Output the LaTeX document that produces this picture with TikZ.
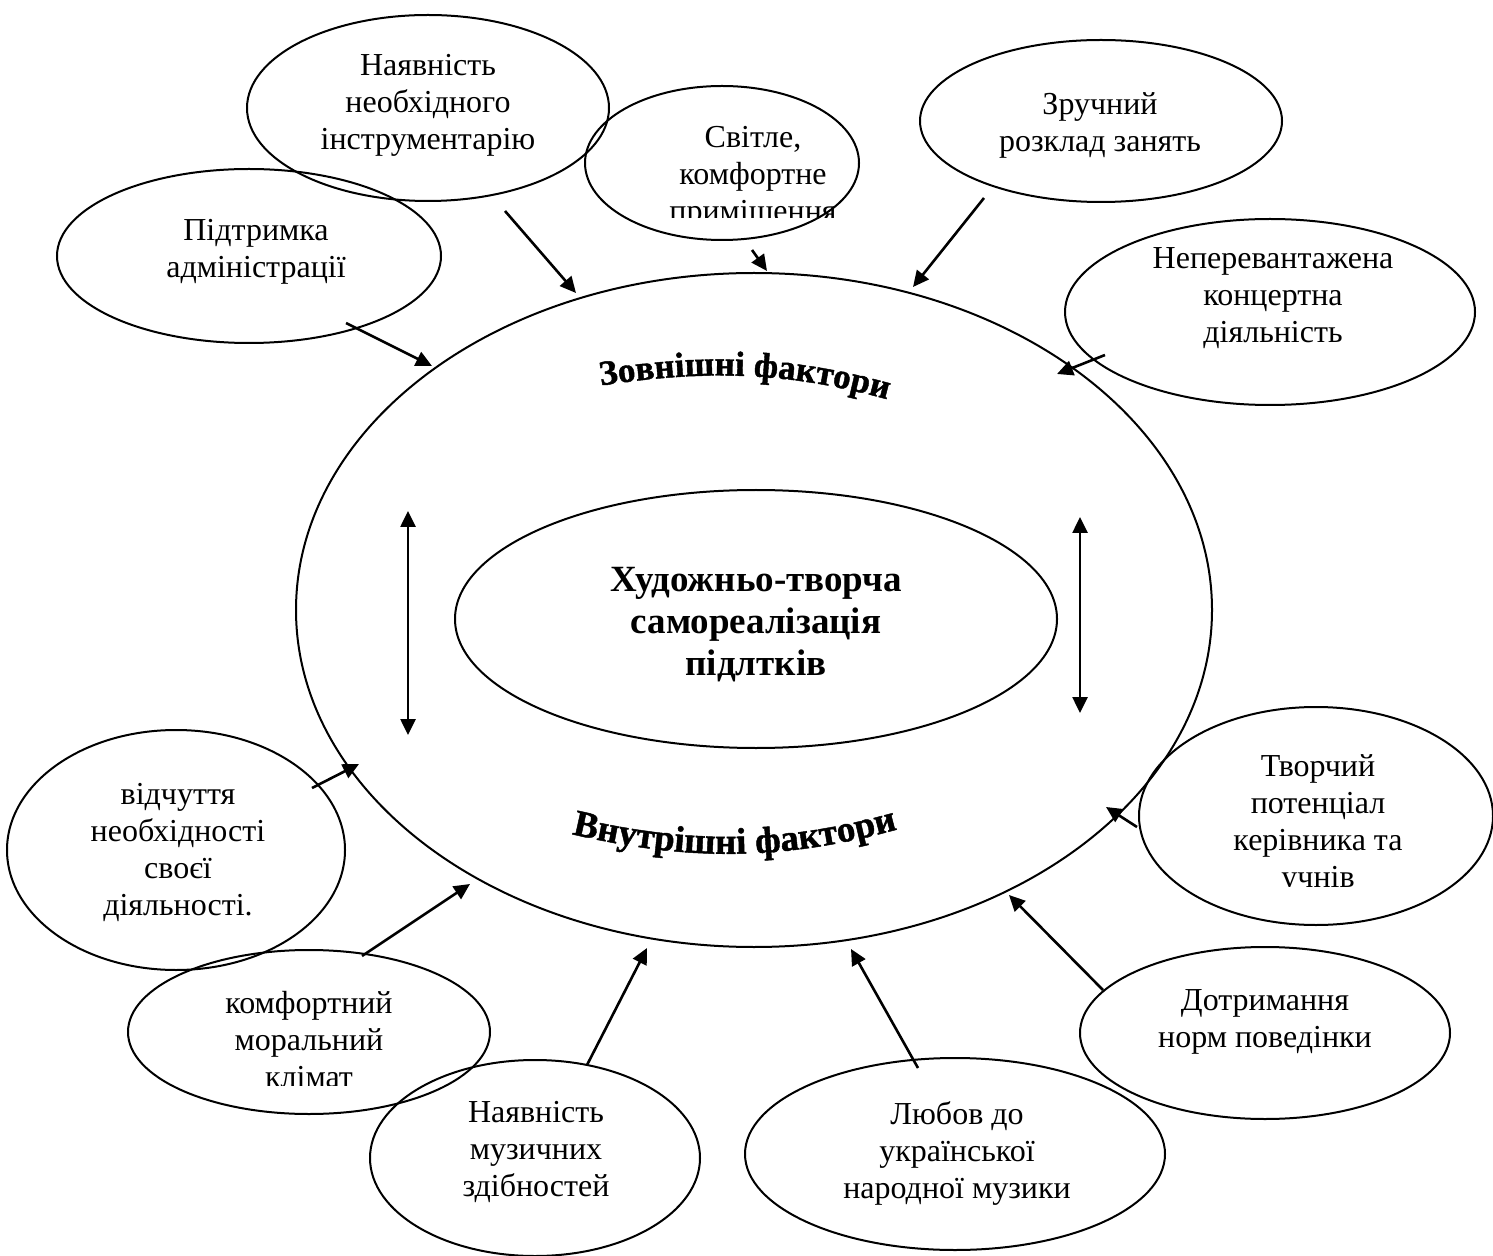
\documentclass[tikz,border=0pt]{standalone}
\usepackage{fontspec}
\setmainfont{Liberation Serif}
\newfontfamily\wafont{Liberation Serif}[BoldFeatures={FakeBold=1.2}]
\usetikzlibrary{shapes.geometric,arrows.meta,decorations.text}
\begin{document}
\begin{tikzpicture}[x=0.5pt,y=-0.5pt,
  oval/.style={ellipse,draw,line width=1pt,inner sep=0pt},
  txt/.style={align=center,inner sep=0pt,font=\fontsize{16}{18.5}\selectfont},
  ttl/.style={align=center,inner sep=0pt,font=\bfseries\fontsize{18.5}{21}\selectfont},
  arr/.style={line width=1.3pt,-{Triangle[length=8pt,width=7.5pt]}},
  darr/.style={line width=1.3pt,{Triangle[length=8pt,width=7.5pt]}-{Triangle[length=8pt,width=7.5pt]}}]
\useasboundingbox (0,0) rectangle (1493,1256);
\fill[white] (0,0) rectangle (1493,1256);

% main ellipses
\node[oval,minimum width=458pt,minimum height=337pt] (big) at (754,610) {};
\node[oval,minimum width=301pt,minimum height=129pt] (core) at (756,619) {};
\node[ttl] (title) at (756,625) {Художньо-творча\\самореалізація\\підлтків};

% outer ellipses
\node[oval,minimum width=181pt,minimum height=93pt] (e1) at (428,108) {};
\node[oval,minimum width=137pt,minimum height=77pt] (e2) at (722,163) {};
\node[oval,minimum width=181pt,minimum height=81pt] (e3) at (1101,121) {};
\node[oval,minimum width=192pt,minimum height=87pt] (e4) at (249,256) {};
\node[oval,minimum width=205pt,minimum height=93pt] (e5) at (1270,312) {};
\node[oval,minimum width=169pt,minimum height=120pt] (e6) at (176,850) {};
\node[oval,minimum width=177pt,minimum height=109pt] (e7) at (1316,816) {};
\node[oval,minimum width=181pt,minimum height=82pt] (e8) at (309,1032) {};
\node[oval,minimum width=185pt,minimum height=86pt] (e9) at (1265,1033) {};
\node[oval,minimum width=165pt,minimum height=98pt] (e10) at (535,1158) {};
\node[oval,minimum width=210pt,minimum height=96pt] (e11) at (955,1154) {};

% texts
\node[txt] (t1) at (428,105) {Наявність\\необхідного\\інструментарію};
\begin{scope}
\clip (600,90) rectangle (900,218);
\node[txt] (t2) at (753,177) {Світле,\\комфортне\\приміщення};
\end{scope}
\node[txt] (t3) at (1100,125) {Зручний\\розклад занять};
\node[txt] (t4) at (256,252) {Підтримка\\адміністрації};
\node[txt] (t5) at (1273,298) {Неперевантажена\\концертна\\діяльність};
\node[txt] (t6) at (178,852) {відчуття\\необхідності\\своєї\\діяльності.};
\begin{scope}
\clip (1150,740) rectangle (1480,886);
\node[txt] (t7) at (1318,824) {Творчий\\потенціал\\керівника та\\учнів};
\end{scope}
\begin{scope}
\clip (150,960) rectangle (470,1085);
\node[txt] (t8) at (309,1040) {комфортний\\моральний\\клімат};
\end{scope}
\node[txt] (t9) at (1265,1022) {Дотримання\\норм поведінки};
\node[txt] (t10) at (536,1152) {Наявність\\музичних\\здібностей};
\node[txt] (t11) at (957,1153) {Любов до\\української\\народної музики};

% curved headings
\path[decorate,decoration={text along path,
  text={|\wafont\bfseries\fontsize{17.5}{19}\selectfont|Зовнішні фактори},
  text align=center}]
  (567,391) .. controls (700,368) and (790,368) .. (920,409);
\path[decorate,decoration={text along path,
  text={|\wafont\bfseries\fontsize{18.5}{20}\selectfont|Внутрішні фактори},
  text align=center}]
  (540,826) .. controls (680,864) and (790,864) .. (929,820);

% arrow end points
\coordinate (a1s) at (505,211);
\coordinate (a1e) at (576,293);
\coordinate (a2s) at (752,250);
\coordinate (a2e) at (767,271);
\coordinate (a3s) at (984,198);
\coordinate (a3e) at (913,287);
\coordinate (a4s) at (346,323);
\coordinate (a4e) at (432,366);
\coordinate (a5s) at (1105,355);
\coordinate (a5e) at (1057,374);
\coordinate (a6s) at (312,788);
\coordinate (a6e) at (359,764);
\coordinate (a7s) at (1137,827);
\coordinate (a7e) at (1106,807);
\coordinate (a8s) at (362,956);
\coordinate (a8e) at (470,884);
\coordinate (a9s) at (1103,990);
\coordinate (a9e) at (1009,895);
\coordinate (a10s) at (587,1065);
\coordinate (a10e) at (647,948);
\coordinate (a11s) at (918,1068);
\coordinate (a11e) at (851,949);
\coordinate (dLt) at (408,511);
\coordinate (dLb) at (408,735);
\coordinate (dRt) at (1080,517);
\coordinate (dRb) at (1080,713);

\draw[arr] (a1s) -- (a1e);
\draw[arr] (a2s) -- (a2e);
\draw[arr] (a3s) -- (a3e);
\draw[arr] (a4s) -- (a4e);
\draw[arr] (a5s) -- (a5e);
\draw[arr] (a6s) -- (a6e);
\draw[arr] (a7s) -- (a7e);
\draw[arr] (a8s) -- (a8e);
\draw[arr] (a9s) -- (a9e);
\draw[arr] (a10s) -- (a10e);
\draw[arr] (a11s) -- (a11e);
\draw[darr] (dLt) -- (dLb);
\draw[darr] (dRt) -- (dRb);
\end{tikzpicture}
\end{document}
